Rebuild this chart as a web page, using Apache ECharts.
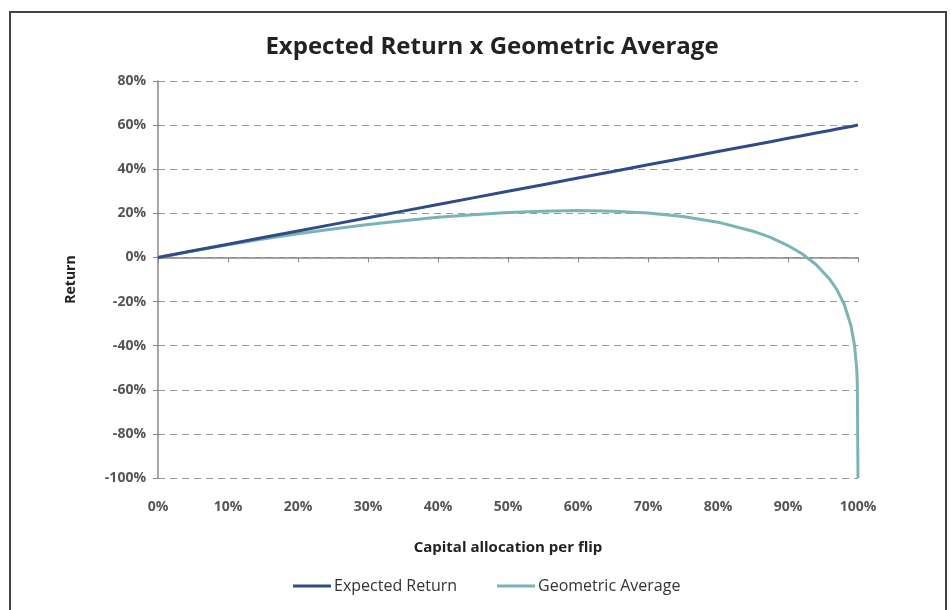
<!DOCTYPE html>
<html>
<head>
<meta charset="utf-8">
<script src="https://cdn.jsdelivr.net/npm/echarts@6.0.0/dist/echarts.min.js"></script>
<style>
  html, body { margin: 0; padding: 0; background: #fff; }
  #chart { width: 951px; height: 610px; }
</style>
</head>
<body>
<div id="chart"></div>
<script>
// capital allocation per flip (fraction of capital)
const allocation = [0, 0.05, 0.1, 0.15, 0.2, 0.25, 0.3, 0.35, 0.4, 0.45, 0.5, 0.55, 0.6, 0.65, 0.7,
  0.75, 0.8, 0.85, 0.875, 0.9, 0.92, 0.94, 0.96, 0.97, 0.98, 0.99, 0.995, 0.998, 0.999, 1]

const expectedReturn = [0, 0.03, 0.06, 0.09, 0.12, 0.15, 0.18, 0.21, 0.24, 0.27, 0.3, 0.33, 0.36, 0.39, 0.42,
  0.45, 0.48, 0.51, 0.525, 0.54, 0.552, 0.564, 0.576, 0.582, 0.588, 0.594, 0.597, 0.599, 0.599, 0.6]

const geometricAverage = [0, 0.029, 0.057, 0.083, 0.107, 0.129, 0.149, 0.166, 0.182, 0.194, 0.204, 0.21, 0.213, 0.21, 0.202,
  0.186, 0.16, 0.119, 0.091, 0.054, 0.017, -0.032, -0.1, -0.147, -0.21, -0.31, -0.398, -0.498, -0.563, -1]

const xTicks = { min: 0, max: 1, interval: 0.1 }
const yTicks = { min: -1, max: 0.8, interval: 0.2 }

const pct = v => Math.round(v * 100) + '%'
const labelColor = '#555'
const fontFamily = '"Open Sans", "Liberation Sans", sans-serif'

const chart = echarts.init(document.getElementById('chart'))

const option = {
  animation: false,
  textStyle: { fontFamily },
  graphic: [
    {
      type: 'rect',
      shape: { x: 10, y: 12, width: 936, height: 640 },
      style: { fill: 'none', stroke: '#444', lineWidth: 2 },
      z: 100,
    },
  ],
  title: {
    text: 'Expected Return x Geometric Average',
    left: 487,
    top: 30,
    textAlign: 'center',
    textStyle: {
      fontSize: 24,
      fontWeight: 'bold',
      color: '#222',
      fontFamily,
    },
  },
  legend: {
    bottom: 11,
    left: 288,
    itemWidth: 38,
    itemHeight: 3,
    itemGap: 40,
    icon: 'rect',
    textStyle: { fontSize: 16, color: '#333', fontFamily, padding: [0, 0, 0, -2] },
    data: ['Expected Return', 'Geometric Average'],
  },
  grid: {
    left: 158,
    right: 93,
    top: 81,
    bottom: 132,
  },
  xAxis: [
    {
      // axis line at zero with ticks
      type: 'value',
      ...xTicks,
      axisLine: { onZero: true, lineStyle: { color: '#888', width: 1.5 } },
      axisTick: { show: true, length: 5, inside: false, lineStyle: { color: '#888' } },
      axisLabel: { show: false },
      splitLine: { show: false },
    },
    {
      // labels along the bottom
      type: 'value',
      position: 'bottom',
      ...xTicks,
      axisLine: { show: false, onZero: false },
      axisTick: { show: false },
      axisLabel: {
        formatter: pct,
        color: labelColor,
        fontSize: 14,
        fontWeight: 'bold',
        margin: 22,
        fontFamily,
      },
      splitLine: { show: false },
      name: 'Capital allocation per flip',
      nameLocation: 'middle',
      nameGap: 62,
      nameTextStyle: { fontSize: 15, fontWeight: 'bold', color: '#222', fontFamily },
    },
  ],
  yAxis: {
    type: 'value',
    ...yTicks,
    axisLine: { show: true, lineStyle: { color: '#888', width: 1.5 } },
    axisTick: { show: true, length: 5, lineStyle: { color: '#888' } },
    axisLabel: { formatter: pct, color: labelColor, fontSize: 14, fontWeight: 'bold', margin: 12, fontFamily },
    splitLine: { show: true, lineStyle: { color: '#999', type: [7, 5], width: 1.2 } },
    name: 'Return',
    nameLocation: 'middle',
    nameGap: 80,
    nameTextStyle: { fontSize: 14, fontWeight: 'bold', color: '#222', fontFamily },
  },
  series: [
    {
      name: 'Expected Return',
      type: 'line',
      xAxisIndex: 0,
      showSymbol: false,
      lineStyle: { color: '#2f4b8a', width: 3 },
      itemStyle: { color: '#2f4b8a' },
      data: allocation.map((x, i) => [x, expectedReturn[i]]),
      z: 3,
    },
    {
      name: 'Geometric Average',
      type: 'line',
      xAxisIndex: 0,
      showSymbol: false,
      lineStyle: { color: '#7ab4b6', width: 3 },
      itemStyle: { color: '#7ab4b6' },
      data: allocation.map((x, i) => [x, geometricAverage[i]]),
      z: 2,
    },
  ],
}

chart.setOption(option)
</script>
</body>
</html>
